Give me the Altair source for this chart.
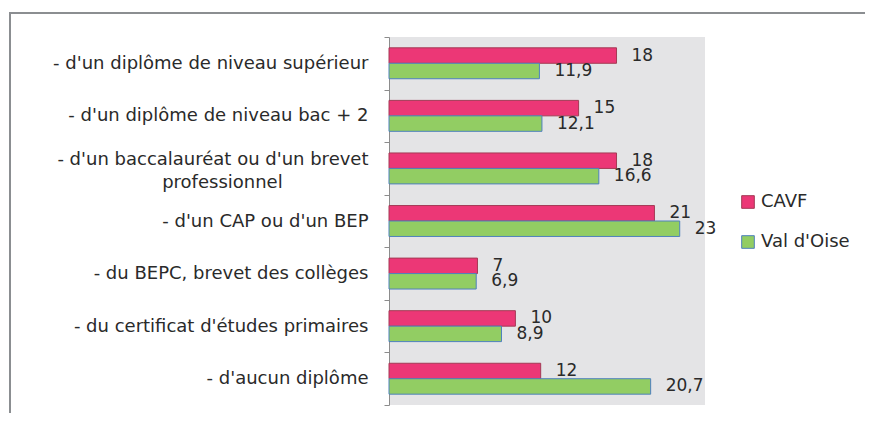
import altair as alt
import pandas as pd

NB = "\u00a0"
categories = [
    "- d'un diplôme de niveau supérieur",
    "- d'un diplôme de niveau bac + 2",
    "- d'un baccalauréat ou d'un brevet|professionnel" + NB * 15 + "\u200b",
    "- d'un CAP ou d'un BEP",
    "- du BEPC, brevet des collèges",
    "- du certificat d'études primaires",
    "- d'aucun diplôme",
]
series = ["CAVF", "Val d'Oise"]
cavf = [18, 15, 18, 21, 7, 10, 12]
val_oise = [11.9, 12.1, 16.6, 23, 6.9, 8.9, 20.7]

rows = []
for c, a, b in zip(categories, cavf, val_oise):
    for s, v in zip(series, [a, b]):
        rows.append({"cat": c, "serie": s, "val": v,
                     "lab": f"{v:g}".replace(".", ",")})
df = pd.DataFrame(rows)

FONT = "DejaVu Sans"
y_enc = alt.Y("cat:N", sort=categories, title=None,
              scale=alt.Scale(paddingInner=0, paddingOuter=0),
              axis=alt.Axis(labelExpr="split(datum.label, '|')",
                            labelFont=FONT, labelFontSize=18, labelColor="#2a2a2a",
                            labelLineHeight=23, labelPadding=16, labelLimit=400,
                            labelOffset={"condition": {"test": "indexof(datum.label, '|') >= 0",
                                                       "value": -9},
                                         "value": 0},
                            tickBand="extent", tickSize=5, tickColor="#8c8c8c",
                            domainColor="#8c8c8c", grid=False))
yoff = alt.YOffset("serie:N", sort=series,
                   scale=alt.Scale(paddingInner=0, paddingOuter=0.7))
x_enc = alt.X("val:Q", axis=None, scale=alt.Scale(domain=[0, 25], nice=False))

frame = alt.Chart(pd.DataFrame({"k": [0]})).mark_rect(
    fillOpacity=0, stroke="#8b8e91", strokeWidth=2).encode(
    x=alt.value(-379), x2=alt.value(600), y=alt.value(-24), y2=alt.value(430))

bars = alt.Chart(df).mark_bar(strokeWidth=1).encode(
    x=x_enc, y=y_enc, yOffset=yoff,
    fill=alt.Fill("serie:N", sort=series, title=None,
                  scale=alt.Scale(domain=series, range=["#EC3776", "#92CD63"]),
                  legend=alt.Legend(orient="none", legendX=350, legendY=156,
                                    symbolType="square", symbolSize=160,
                                    labelFont=FONT, labelFontSize=18,
                                    labelColor="#2a2a2a", rowPadding=22,
                                    symbolStrokeWidth=1)),
    stroke=alt.Stroke("serie:N", sort=series, title=None,
                      scale=alt.Scale(domain=series, range=["#A43A55", "#4F81BD"]),
                      legend=None),
)

texts = alt.Chart(df).mark_text(align="left", baseline="middle", dx=15,
                                font=FONT, fontSize=17, color="#2a2a2a").encode(
    x="val:Q", y=alt.Y("cat:N", sort=categories), yOffset=yoff, text="lab:N")

chart = alt.layer(frame, bars, texts).properties(
    width=316, height=368,
    autosize=alt.AutoSizeParams(type="none"),
    padding={"left": 381, "top": 29, "right": 160, "bottom": 8},
).configure_view(fill="#E4E4E6", stroke=None)

chart.save("out.html", embed_options={"renderer": "svg", "actions": False})
